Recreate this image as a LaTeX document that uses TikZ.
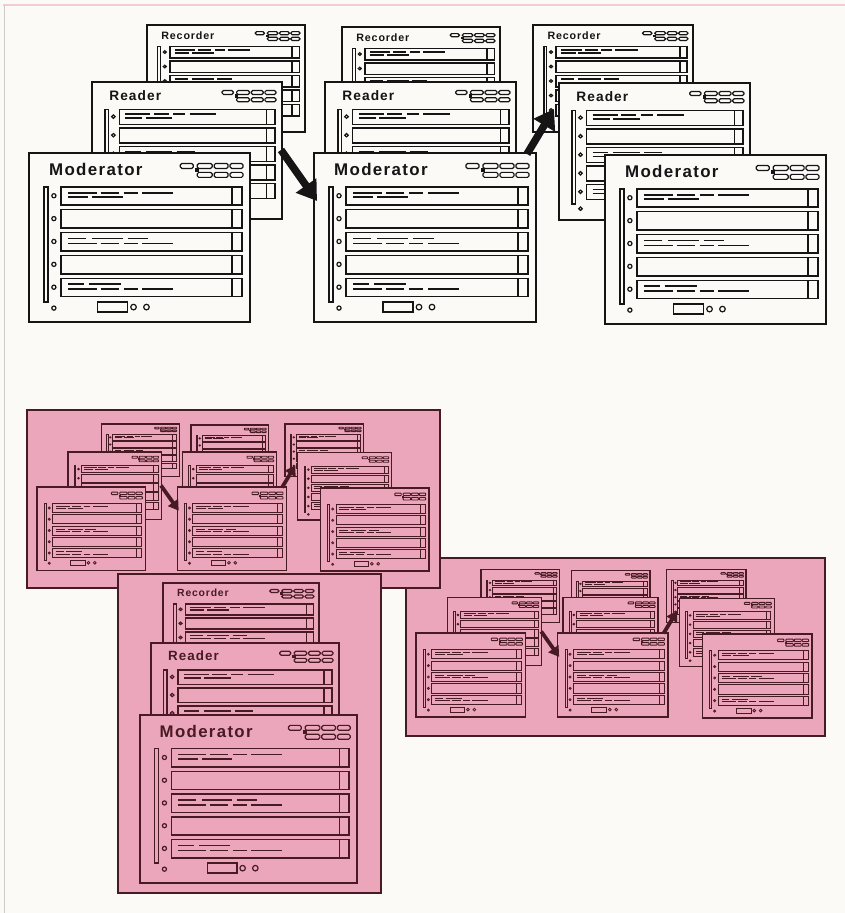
\documentclass[tikz,border=0pt]{standalone}
\usepackage{fontspec}
\usetikzlibrary{arrows.meta}
\newfontfamily\ttlfont[LetterSpace=8]{Liberation Sans}
\definecolor{pagebg}{RGB}{251,250,246}
\definecolor{pinkbg}{RGB}{236,166,187}
\definecolor{maroon}{RGB}{72,26,36}
\definecolor{inkblack}{RGB}{22,20,20}
\colorlet{inkc}{inkblack}
\colorlet{bgc}{pagebg}
\newif\ifshowtitle \showtitletrue

\tikzset{
  frm/.style={draw=inkc, line width=1.9pt},
  rowl/.style={draw=inkc, line width=1.5pt},
  dsh/.style={draw=inkc, line width=1.5pt},
  btn/.style={draw=inkc, line width=1.2pt, rounded corners=1.5pt},
  dotl/.style={draw=inkc, fill=bgc, line width=1.2pt},
  bigarrow/.style={draw=inkc, line width=7.5pt, -{Triangle[length=19pt,width=24pt]}},
  ttl/.style={text=inkc, font=\ttlfont\bfseries\fontsize{17}{17}\selectfont, inner sep=0pt},
  mini/.style={
    frm/.style={draw=inkc, line width=1.3pt},
    rowl/.style={draw=inkc, line width=1.0pt},
    dsh/.style={draw=inkc, line width=1.0pt},
    btn/.style={draw=inkc, line width=0.9pt, rounded corners=0.6pt},
    dotl/.style={draw=inkc, fill=bgc, line width=0.8pt},
    bigarrow/.style={draw=inkc, line width=3.8pt, -{Triangle[length=10pt,width=12pt]}}},
  pinkbox/.style={draw=inkc, fill=pinkbg, line width=1.5pt},
}

% #1 name, #2 x, #3 y, #4 w, #5 h, #6 title
\newcommand\panel[6]{%
  \pgfmathsetmacro\pnA{#4/222}%
  \pgfmathsetmacro\pnB{#5/170}%
  \pgfmathsetmacro\pnC{\pnB/\pnA}%
  \begin{scope}[shift={(#2,#3)}, xscale=\pnA, yscale=\pnB]
    \coordinate (#1) at (0,0);
    \fill[bgc] (0,0) rectangle (222,170);
    \draw[frm] (0,0) rectangle (222,170);
    \ifshowtitle\node[ttl, transform shape, xscale=\pnC, anchor=base west] (#1-t) at (20,22.5) {#6};\fi
    \foreach \xa/\xb in {152/165,169/184,186/200,202/215} {\draw[btn] (\xa,10.5) rectangle (\xb,15.5);}
    \foreach \xa/\xb in {169/184,186/200,202/215} {\draw[btn] (\xa,19.5) rectangle (\xb,24.5);}
    \fill[inkc] (167,15.5) rectangle (171,19.5);
    \draw[rowl] (15,34) rectangle (19,150);
    \foreach \i in {0,...,4} {
      \pgfmathsetmacro\pnY{34+23*\i}
      \draw[rowl] (32,\pnY) rectangle (214,\pnY+18.5);
      \draw[rowl] (204,\pnY) -- (204,\pnY+18.5);
      \draw[dotl] (25,\pnY+9) circle[radius=2.1];
    }
    \foreach \yy/\xa/\xb in {40/39/68,40/72/90,40/95/109,40/114/145,44.5/39/59,44.5/63/94,
        86/39/57,86/63/94,86/99/120,91/39/68,91/72/90,91/95/109,91/114/145,
        132/39/55,132/60/92,137/39/68,137/72/90,137/95/109,137/114/145}
      {\draw[dsh] (\xa,\yy) -- (\xb,\yy);}
    \draw[dotl] (25,156) circle[radius=2.1];
    \draw[rowl] (69,150) rectangle (99,160);
    \draw[dotl] (105,155) circle[radius=2.8];
    \draw[dotl] (118,155) circle[radius=2.8];
  \end{scope}}

% three groups of three windows, with the two arrows
\newcommand\trio[2]{%
  \panel{#1LRec}{#2}{25}{158}{107}{Recorder}
  \panel{#1LRd}{92}{82}{190}{137}{Reader}
  \panel{#1LMod}{29}{153}{221}{169}{Moderator}
  \panel{#1MRec}{342}{27}{158}{107}{Recorder}
  \panel{#1MRd}{325}{82}{191}{137}{Reader}
  \panel{#1MMod}{314}{153}{222}{169}{Moderator}
  \panel{#1RRec}{533}{25}{160}{107}{Recorder}
  \panel{#1RRd}{559}{83}{191}{137}{Reader}
  \panel{#1RMod}{605}{155}{221}{169}{Moderator}
  \coordinate (#1a1s) at (281,150);
  \coordinate (#1a1e) at (317,201);
  \coordinate (#1a2s) at (527,154);
  \coordinate (#1a2e) at (554,109);
  \draw[bigarrow] (#1a1s) -- (#1a1e);
  \draw[bigarrow] (#1a2s) -- (#1a2e);
}

\begin{document}
\begin{tikzpicture}[x=1pt, y=-1pt]
  \fill[pagebg] (0,0) rectangle (845,913);
  \useasboundingbox (0,0) rectangle (845,913);
  \draw[pinkbg!60, line width=1.5pt] (3,5) -- (845,5);
  \draw[black!20, line width=0.8pt] (4,5) -- (4,913);

  % top row
  \trio{t}{147}

  % box C (right)
  \begin{scope}
    \colorlet{inkc}{maroon}\colorlet{bgc}{pinkbg}\showtitlefalse
    \draw[pinkbox] (406,558) rectangle (825,736);
    \begin{scope}[shift={(401.59,556.96)}, scale=0.497, mini]
      \trio{c}{160}
    \end{scope}
  \end{scope}

  % box A (left)
  \begin{scope}
    \colorlet{inkc}{maroon}\colorlet{bgc}{pinkbg}\showtitlefalse
    \draw[pinkbox] (27,410) rectangle (440,588);
    \begin{scope}[shift={(22.73,411.72)}, scale=0.492, mini]
      \trio{a}{160}
    \end{scope}
  \end{scope}

  % box B (single stack)
  \begin{scope}
    \colorlet{inkc}{maroon}\colorlet{bgc}{pinkbg}
    \draw[pinkbox] (118,574) rectangle (381,893);
    \panel{bRec}{163}{583}{156}{104}{Recorder}
    \panel{bRd}{151}{643}{188}{134}{Reader}
    \panel{bMod}{140}{715}{217}{168}{Moderator}
  \end{scope}
\end{tikzpicture}
\end{document}
